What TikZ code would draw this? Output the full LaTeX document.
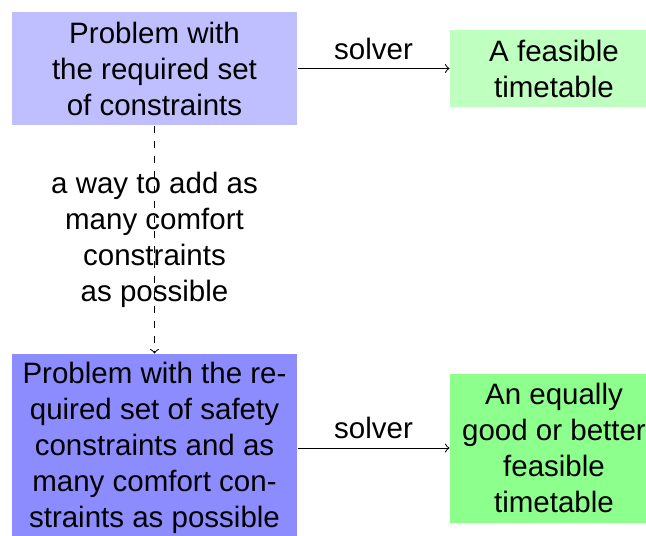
\documentclass[tikz,border=0pt]{standalone}
\usepackage{fontspec}
\setmainfont{Liberation Sans}
\usetikzlibrary{positioning}

\begin{document}
\begin{tikzpicture}[node distance={60.8pt}, main/.style = {rectangle, align=center, inner sep=0pt, font=\fontsize{11.8}{14.4}\selectfont}]
            \useasboundingbox (0,0) rectangle (258.4pt,-214pt);
            \node[main, fill=blue!25, minimum width=114pt, minimum height=45.2pt] (1) at (61.8pt,-27.4pt) {Problem with\\the required set\\of constraints};
            \node[main, fill=green!25, minimum width=83.2pt, minimum height=30.8pt] (2) [right =of 1] {A feasible\\timetable};
            \node[main, fill=blue!45, minimum width=114pt, minimum height=75.2pt] (3) [below =91.2pt of 1] {Problem with the re-\\quired set of safety\\constraints and as\\many comfort con-\\straints as possible};
            \node[main, fill=green!45, minimum width=83.2pt, minimum height=59.6pt] (4) [right =of 3] {An equally\\good or better\\feasible\\timetable};

            \draw[->] (1) -- node[above, font=\fontsize{11.8}{14.4}\selectfont] {solver} (2);
            \draw[->] (3) -- node[above, font=\fontsize{11.8}{14.4}\selectfont] {solver} (4);
            %dashed
            \draw[->, dashed] (1) -- node[align=center, font=\fontsize{11.8}{14.4}\selectfont] {a way to add as\\many comfort\\constraints\\as possible} (3);
        \end{tikzpicture}
\end{document}
